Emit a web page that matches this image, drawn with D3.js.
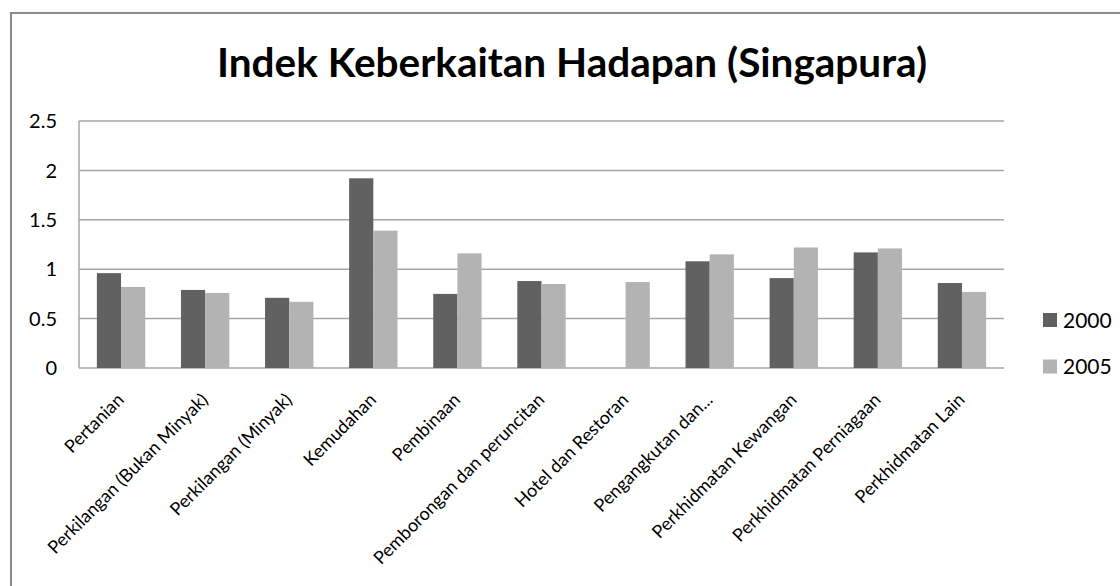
<!DOCTYPE html>
<meta charset="utf-8">
<style>
    body { margin: 0; background: #fff; }
    svg text { font-family: Lato, "Open Sans", sans-serif; fill: #000; }
</style>
<script src="https://d3js.org/d3.v7.min.js"></script>
<div id="chart"></div>
<script>
    // data
    var categories = ["Pertanian", "Perkilangan (Bukan Minyak)", "Perkilangan (Minyak)", "Kemudahan",
        "Pembinaan", "Pemborongan dan peruncitan", "Hotel dan Restoran", "Pengangkutan dan...",
        "Perkhidmatan Kewangan", "Perkhidmatan Perniagaan", "Perkhidmatan Lain"];
    var years = ["2000", "2005"];
    var values2000 = [0.96, 0.79, 0.71, 1.92, 0.75, 0.88, 0, 1.08, 0.91, 1.17, 0.86];
    var values2005 = [0.82, 0.76, 0.67, 1.39, 1.16, 0.85, 0.87, 1.15, 1.22, 1.21, 0.77];
    var yTicks = [0, 0.5, 1, 1.5, 2, 2.5];
    var colors = ["#616161", "#b3b3b3"];

    var W = 1120, H = 586;
    var plot = {left: 79, right: 1004, top: 121, bottom: 368};

    var svg = d3.select("#chart").append("svg")
        .attr("width", W)
        .attr("height", H);

    // outer chart border
    svg.append("rect")
        .attr("x", 11).attr("y", 13)
        .attr("width", W).attr("height", H)
        .attr("fill", "none")
        .attr("stroke", "#8a8a8a")
        .attr("stroke-width", 2);

    svg.append("text")
        .attr("x", 572)
        .attr("y", 77)
        .attr("text-anchor", "middle")
        .style("font-size", "40.5px")
        .style("font-weight", "bold")
        .text("Indek Keberkaitan Hadapan (Singapura)");

    var x0 = d3.scaleBand()
        .domain(categories)
        .range([plot.left, plot.right])
        .paddingInner(0.425)
        .paddingOuter(0.2125);

    var x1 = d3.scaleBand()
        .domain(years)
        .range([0, x0.bandwidth()]);

    var y = d3.scaleLinear()
        .domain([0, 2.5])
        .range([plot.bottom, plot.top]);

    // gridlines
    svg.append("g").selectAll("line")
        .data(yTicks)
        .enter().append("line")
        .attr("x1", plot.left).attr("x2", plot.right)
        .attr("y1", function(d) { return y(d); })
        .attr("y2", function(d) { return y(d); })
        .attr("stroke", "#a6a6a6")
        .attr("stroke-width", 1.5);

    svg.append("line")
        .attr("x1", plot.left).attr("x2", plot.left)
        .attr("y1", plot.top).attr("y2", plot.bottom)
        .attr("stroke", "#a6a6a6")
        .attr("stroke-width", 1.5);

    svg.append("g").selectAll("text")
        .data(yTicks)
        .enter().append("text")
        .attr("x", 57)
        .attr("y", function(d) { return y(d); })
        .attr("dy", "0.36em")
        .attr("text-anchor", "end")
        .style("font-size", "20px")
        .text(function(d) { return d; });

    var series = [values2000, values2005];
    var rows = categories.map(function(c, i) {
        return {cat: c, vals: years.map(function(yr, j) { return {year: yr, v: series[j][i], j: j}; })};
    });

    var groups = svg.append("g").selectAll("g")
        .data(rows)
        .enter().append("g")
        .attr("transform", function(d) { return "translate(" + x0(d.cat) + ",0)"; });

    groups.selectAll("rect")
        .data(function(d) { return d.vals.filter(function(b) { return b.v > 0; }); })
        .enter().append("rect")
        .attr("x", function(d) { return x1(d.year); })
        .attr("width", x1.bandwidth())
        .attr("y", function(d) { return y(d.v); })
        .attr("height", function(d) { return y(0) - y(d.v); })
        .attr("fill", function(d) { return colors[d.j]; });

    // category labels, rotated
    svg.append("g").selectAll("text")
        .data(categories)
        .enter().append("text")
        .attr("transform", function(d) {
            return "translate(" + (x0(d) + x0.bandwidth() / 2 + 4) + ",401) rotate(-45)";
        })
        .attr("text-anchor", "end")
        .style("font-size", "18px")
        .text(function(d) { return d; });

    // legend
    var legend = svg.append("g").selectAll("g")
        .data(years)
        .enter().append("g")
        .attr("transform", function(d, i) { return "translate(1043," + (320 + i * 46.5) + ")"; });

    legend.append("rect")
        .attr("x", 0).attr("y", -7)
        .attr("width", 14).attr("height", 14)
        .attr("fill", function(d, i) { return colors[i]; });

    legend.append("text")
        .attr("x", 20)
        .attr("dy", "0.36em")
        .style("font-size", "21px")
        .text(function(d) { return d; });
</script>
